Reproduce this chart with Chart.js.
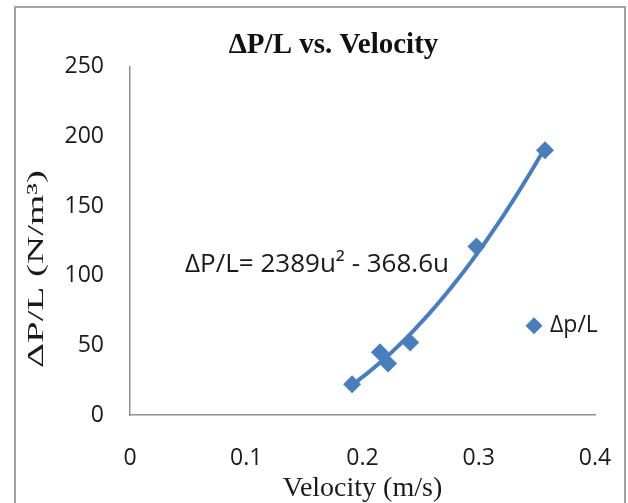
<!DOCTYPE html>
<html>
<head>
<meta charset="utf-8">
<script src="https://cdn.jsdelivr.net/npm/chart.js@4/dist/chart.umd.min.js"></script>
<style>
  body { margin: 0; background: #fff; }
</style>
</head>
<body>
<canvas id="grafico" width="628" height="503"></canvas>
<script>
// data
const velocity = [0.191, 0.215, 0.222, 0.241, 0.298, 0.357];
const pressureDrop = [22, 45, 37, 52, 121, 190];
const xTicks = [0, 0.1, 0.2, 0.3, 0.4];
const yTicks = [0, 50, 100, 150, 200, 250];
const seriesName = 'Δp/L';
const chartTitle = 'ΔP/L vs. Velocity';
const xTitle = 'Velocity (m/s)';
const yTitle = 'ΔP/L (N/m³)';
const trendLabel = 'ΔP/L= 2389u² - 368.6u';

const blue = '#4a7ebb';
const axisGrey = '#8f8f8f';
const textColor = '#1a1a1a';
const sans = "'Open Sans', sans-serif";
const serif = "'Liberation Serif', 'Times New Roman', serif";

// least squares y = a*u^2 + b*u (no intercept, same as the excel trendline)
function fitTrend(xs, ys) {
  let s2 = 0, s3 = 0, s4 = 0, t1 = 0, t2 = 0;
  xs.forEach((u, i) => {
    s2 += u * u; s3 += u ** 3; s4 += u ** 4;
    t1 += ys[i] * u; t2 += ys[i] * u * u;
  });
  const det = s4 * s2 - s3 * s3;
  return { a: (t2 * s2 - s3 * t1) / det, b: (s4 * t1 - s3 * t2) / det };
}

function diamond(ctx, cx, cy, r) {
  ctx.beginPath();
  ctx.moveTo(cx, cy - r);
  ctx.lineTo(cx + r, cy);
  ctx.lineTo(cx, cy + r);
  ctx.lineTo(cx - r, cy);
  ctx.closePath();
  ctx.fill();
}

const extras = {
  id: 'extras',
  afterLayout(chart) {
    // y tick labels stick out left of the padded area, don't let them get clipped
    chart.scales.y.left = 0;
  },
  beforeDraw(chart) {
    const ctx = chart.ctx;
    ctx.save();
    ctx.fillStyle = '#fff';
    ctx.fillRect(0, 0, chart.width, chart.height);
    ctx.strokeStyle = '#a3a3a3';
    ctx.lineWidth = 2;
    ctx.strokeRect(15, 7, 610, 520); // outer frame, bottom edge is cut off
    ctx.restore();
  },
  beforeDatasetsDraw(chart) {
    const { ctx, scales: { x, y } } = chart;
    const fit = fitTrend(velocity, pressureDrop);
    const u0 = Math.min(...velocity), u1 = Math.max(...velocity);
    ctx.save();
    ctx.beginPath();
    for (let i = 0; i <= 60; i++) {
      const u = u0 + (u1 - u0) * i / 60;
      const px = x.getPixelForValue(u);
      const py = y.getPixelForValue(fit.a * u * u + fit.b * u);
      if (i === 0) ctx.moveTo(px, py); else ctx.lineTo(px, py);
    }
    ctx.strokeStyle = blue;
    ctx.lineWidth = 4;
    ctx.lineCap = 'round';
    ctx.stroke();
    ctx.restore();
  },
  afterDraw(chart) {
    const { ctx, chartArea } = chart;
    ctx.save();
    ctx.fillStyle = textColor;
    ctx.textBaseline = 'middle';

    // trendline equation
    ctx.font = '500 26px ' + sans;
    ctx.textAlign = 'left';
    ctx.fillText(trendLabel, chartArea.left + 55, chartArea.top + 198);

    // legend inside the plot
    ctx.font = '500 23px ' + sans;
    ctx.fillText(seriesName, chartArea.right - 45, chartArea.top + 259);
    ctx.fillStyle = blue;
    diamond(ctx, chartArea.right - 61, chartArea.top + 259, 8.5);

    // y title, stretched along its length like in the picture
    ctx.fillStyle = textColor;
    ctx.font = '23px ' + serif;
    const w = ctx.measureText(yTitle).width;
    ctx.translate(37, 269);
    ctx.rotate(-Math.PI / 2);
    ctx.scale(198 / w, 1);
    ctx.textAlign = 'center';
    ctx.fillText(yTitle, 0, 0);
    ctx.restore();
  }
};

new Chart(document.getElementById('grafico'), {
  type: 'scatter',
  data: {
    datasets: [{
      label: seriesName,
      data: velocity.map((v, i) => ({ x: v, y: pressureDrop[i] })),
      pointStyle: 'rectRot',
      pointRadius: 9,
      pointHoverRadius: 9,
      pointBackgroundColor: blue,
      pointBorderColor: blue,
      pointBorderWidth: 0
    }]
  },
  options: {
    responsive: false,
    animation: false,
    devicePixelRatio: 1,
    layout: { padding: { left: 72, right: 33, top: 0, bottom: 0 } },
    plugins: {
      legend: { display: false },
      tooltip: { enabled: false },
      title: {
        display: true,
        text: chartTitle,
        color: '#111',
        font: { family: serif, size: 29, weight: 'bold' },
        padding: { top: 28, bottom: 4 }
      }
    },
    scales: {
      x: {
        type: 'linear',
        min: xTicks[0],
        max: xTicks[xTicks.length - 1],
        grid: { display: false, drawTicks: false },
        border: { color: axisGrey, width: 1.5 },
        ticks: { color: textColor, font: { family: sans, size: 23, weight: 500 }, padding: 30 },
        title: { display: true, text: xTitle, color: textColor, font: { family: serif, size: 28 }, padding: { top: 0, bottom: -2 } },
        afterBuildTicks: s => { s.ticks = xTicks.map(v => ({ value: v })); },
        afterFit: s => { s.height = 88; s.paddingLeft = 0; s.paddingRight = 0; }
      },
      y: {
        min: yTicks[0],
        max: yTicks[yTicks.length - 1],
        grid: { display: false, drawTicks: false },
        border: { color: axisGrey, width: 1.5 },
        ticks: { color: textColor, font: { family: sans, size: 23, weight: 500 }, padding: 26 },
        afterBuildTicks: s => { s.ticks = yTicks.map(v => ({ value: v })); },
        afterFit: s => { s.width = 58; s.paddingTop = 0; s.paddingBottom = 0; }
      }
    }
  },
  plugins: [extras]
});
</script>
</body>
</html>
